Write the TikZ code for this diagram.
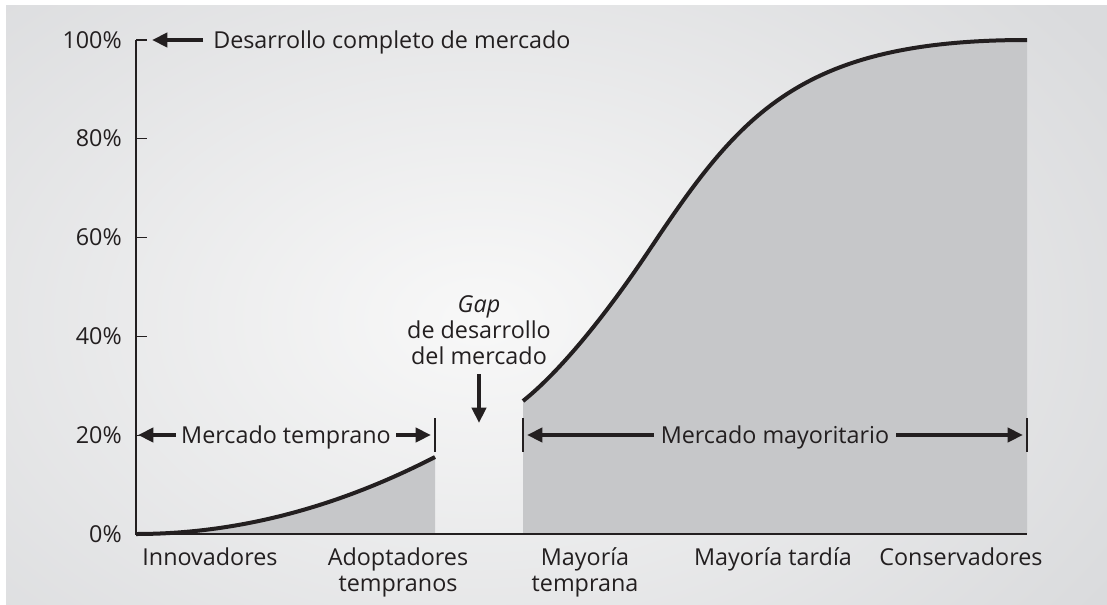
\documentclass[tikz,border=0pt]{standalone}
\usepackage{fontspec}
\setmainfont{Open Sans}
\usetikzlibrary{arrows.meta}
\definecolor{ink}{HTML}{231F20}
\definecolor{fillg}{HTML}{C6C7C9}
\definecolor{bgout}{HTML}{DADBDD}
\definecolor{bgin}{HTML}{F8F8F8}
\tikzset{
  lbl/.style={font=\fontsize{17.5}{19.5}\selectfont, text=ink, inner sep=0pt},
  bigarrow/.style={draw=ink, line width=3pt, -{Triangle[length=11.5pt,width=10.5pt]}},
  curveline/.style={draw=ink, line width=3pt},
  axisline/.style={draw=ink, line width=1.1pt},
  tickline/.style={draw=ink, line width=0.8pt},
}
\begin{document}
\begin{tikzpicture}[x=0.75pt,y=-0.75pt]
\useasboundingbox (0,0) rectangle (1107,604);
\fill[white] (0,0) rectangle (1107,604);
\begin{scope}
  \clip (6,5) rectangle (1107,604);
  \shade[inner color=bgin, outer color=bgout] (-270,-180) rectangle (1230,820);
\end{scope}

% filled areas
\fill[fillg] (136,534) .. controls (235.7,534) and (335.3,508.3) .. (435,457) -- (435,534) -- cycle;
\fill[fillg] (523,534) -- (523,401) .. controls (563,369) and (610,309) .. (650,249)
   .. controls (740,114) and (800,40) .. (1027,40) -- (1027,534) -- cycle;

% curves
\draw[curveline] (136,534) .. controls (235.7,534) and (335.3,508.3) .. (435,457);
\draw[curveline] (523,401) .. controls (563,369) and (610,309) .. (650,249)
   .. controls (740,114) and (800,40) .. (1027,40);

% axes
\coordinate (top) at (136,40);
\coordinate (origin) at (136,534);
\coordinate (xend) at (1027,534);
\draw[axisline] (top) -- (origin) -- (xend);
\foreach \v/\y in {100/40,80/138.8,60/237.6,40/336.4,20/435.2}{
  \draw[tickline] (136,\y) -- (147,\y);
}
\foreach \v/\y in {100/40,80/138.8,60/237.6,40/336.4,20/435.2,0/534}{
  \node[lbl, anchor=base east] (y\v) at (122,\y+8) {\v\%};
}

% vertical limit marks
\coordinate (m1) at (435,435);
\coordinate (m2) at (523,435);
\coordinate (m3) at (1027,435);
\draw[tickline] (435,418) -- (435,452);
\draw[tickline] (523,418) -- (523,452);
\draw[tickline] (1027,418) -- (1027,452);

% top label
\coordinate (t100) at (152,40);
\node[lbl, anchor=base west, inner xsep=7.5pt] (dcm) at (203,48) {Desarrollo completo de mercado};
\draw[bigarrow] (dcm.west |- t100) -- (t100);

% Mercado temprano
\coordinate (lt) at (138,435);
\coordinate (rt) at (431,435);
\node[lbl, anchor=base, inner xsep=4pt] (mt) at (286,443) {Mercado temprano};
\draw[bigarrow] (mt.west |- lt) -- (lt);
\draw[bigarrow] (mt.east |- rt) -- (rt);

% Mercado mayoritario
\coordinate (lm) at (527,435);
\coordinate (rm) at (1023,435);
\node[lbl, anchor=base, inner xsep=5pt] (mm) at (775,443) {Mercado mayoritario};
\draw[bigarrow] (mm.west |- lm) -- (lm);
\draw[bigarrow] (mm.east |- rm) -- (rm);

% Gap
\node[lbl, align=center, anchor=base] (gap) at (479,364) {\textit{Gap}\\de desarrollo\\del mercado};
\coordinate (gaptip) at (479,423);
\draw[bigarrow] (479,374) -- (gaptip);

% x labels
\node[lbl, anchor=base] (inn) at (210,565) {Innovadores};
\node[lbl, anchor=base, align=center] (ado) at (398,591) {Adoptadores\\tempranos};
\node[lbl, anchor=base, align=center] (mte) at (585,591) {Mayoría\\temprana};
\node[lbl, anchor=base] (mta) at (773,565) {Mayoría tardía};
\node[lbl, anchor=base] (con) at (961,565) {Conservadores};
\end{tikzpicture}
\end{document}
